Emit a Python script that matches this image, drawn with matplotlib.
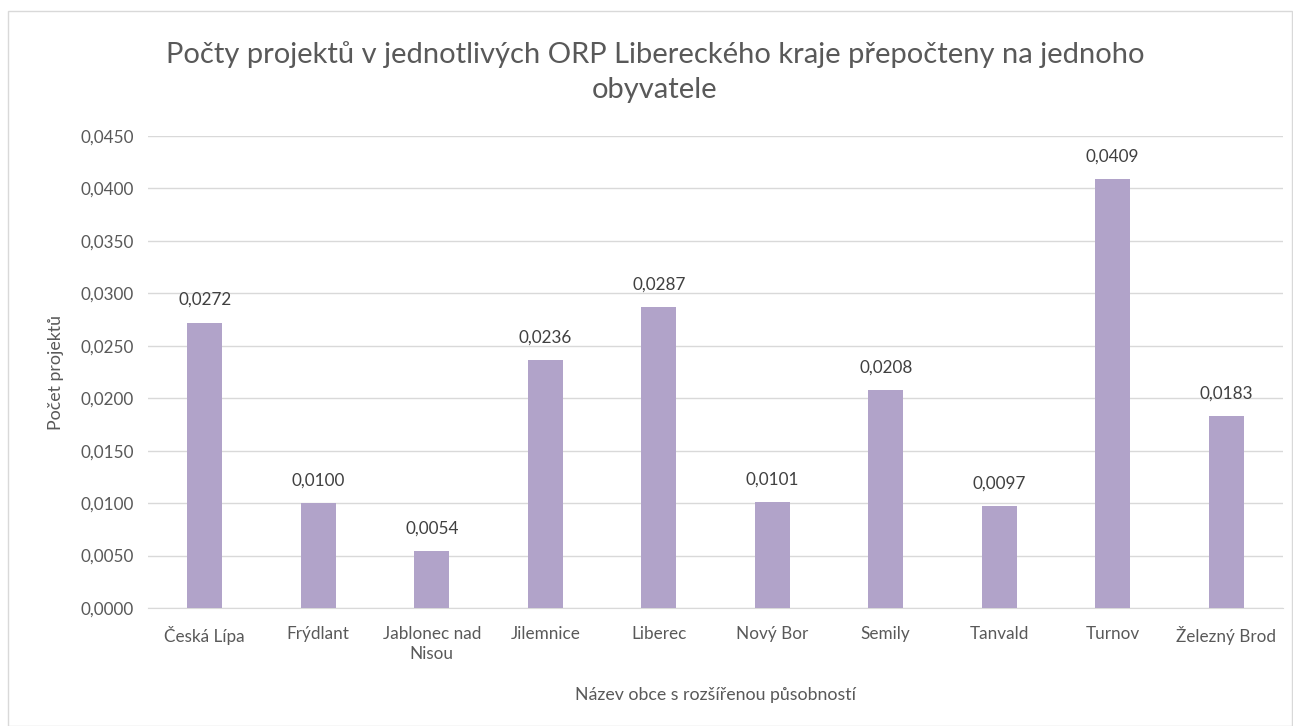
import matplotlib
matplotlib.use("Agg")
import matplotlib.pyplot as plt
from matplotlib.ticker import FuncFormatter, MultipleLocator
from matplotlib.patches import Rectangle

categories = ["Česká Lípa", "Frýdlant", "Jablonec nad\nNisou", "Jilemnice", "Liberec",
              "Nový Bor", "Semily", "Tanvald", "Turnov", "Železný Brod"]
values = [0.0272, 0.0100, 0.0054, 0.0236, 0.0287, 0.0101, 0.0208, 0.0097, 0.0409, 0.0183]

title = "Počty projektů v jednotlivých ORP Libereckého kraje přepočteny na jednoho\nobyvatele"
xlabel = "Název obce s rozšířenou působností"
ylabel = "Počet projektů"

plt.rcParams['font.family'] = ['Lato', 'DejaVu Sans']
txt = "#595959"
bar_color = "#B1A3C9"

fig = plt.figure(figsize=(12.93, 7.26), dpi=100)
fig.patches.append(Rectangle((8/1293, 0.0), 1 - 8/1293 - 0.0005, 1 - 11/726, transform=fig.transFigure,
                             fill=False, edgecolor="#D9D9D9", linewidth=1.0))
ax = fig.add_axes([148/1293, 118/726, 1135/1293, 472/726])

x = list(range(len(categories)))
bars = ax.bar(x, values, width=0.31, color=bar_color, zorder=3)
for xi, v in zip(x, values):
    ax.text(xi, v + 0.0014, f"{v:.4f}".replace(".", ","), ha="center", va="bottom",
            fontsize=12.3, color="#404040")

ax.set_xlim(-0.5, len(categories) - 0.5)
ax.set_ylim(0, 0.045)
ax.yaxis.set_major_locator(MultipleLocator(0.005))
ax.yaxis.set_major_formatter(FuncFormatter(lambda v, p: f"{v:.4f}".replace(".", ",")))
ax.set_xticks(x)
ax.set_xticklabels(categories, fontsize=12.3, color=txt, linespacing=1.3)
ax.tick_params(axis="y", labelsize=12.3, labelcolor=txt, length=0, pad=10)
ax.tick_params(axis="x", length=0, pad=13)
ax.grid(axis="y", color="#D9D9D9", linewidth=1.0, zorder=0)
for s in ["top", "right", "left"]:
    ax.spines[s].set_visible(False)
ax.spines["bottom"].set_color("#D9D9D9")

ax.set_xlabel(xlabel, fontsize=12.8, color=txt, labelpad=18)
ax.set_ylabel(ylabel, fontsize=12.8, color=txt, labelpad=12)
fig.text(655/1293, 1 - 72/726, title, ha="center", va="center", fontsize=21, color=txt,
         linespacing=1.45)

fig.savefig("out.png", dpi=100)
